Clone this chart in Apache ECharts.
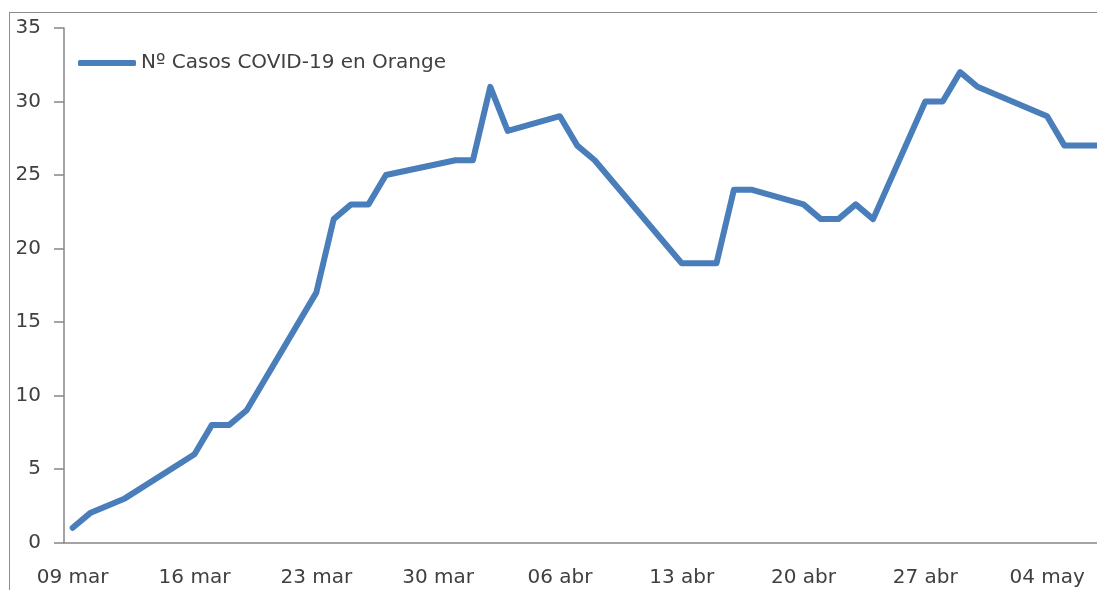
<!DOCTYPE html>
<html>
<head>
<meta charset="utf-8">
<script src="https://cdn.jsdelivr.net/npm/echarts@6/dist/echarts.min.js"></script>
<style>
	html, body { margin: 0; padding: 0; background: #fff; overflow: hidden; }
	#frame { position: absolute; left: 9px; top: 12px; width: 2000px; height: 1000px; border: 1px solid #8c8c8c; }
	#chart { position: absolute; left: 0; top: 0; width: 1097px; height: 590px; }
</style>
</head>
<body>
<div id="frame"></div>
<div id="chart"></div>
<script>
// daily categories, 09 mar -> 07 may
const dates = [
	'09 mar', '10 mar', '11 mar', '12 mar', '13 mar', '14 mar', '15 mar',
	'16 mar', '17 mar', '18 mar', '19 mar', '20 mar', '21 mar', '22 mar',
	'23 mar', '24 mar', '25 mar', '26 mar', '27 mar', '28 mar', '29 mar',
	'30 mar', '31 mar', '01 abr', '02 abr', '03 abr', '04 abr', '05 abr',
	'06 abr', '07 abr', '08 abr', '09 abr', '10 abr', '11 abr', '12 abr',
	'13 abr', '14 abr', '15 abr', '16 abr', '17 abr', '18 abr', '19 abr',
	'20 abr', '21 abr', '22 abr', '23 abr', '24 abr', '25 abr', '26 abr',
	'27 abr', '28 abr', '29 abr', '30 abr', '01 may', '02 may', '03 may',
	'04 may', '05 may', '06 may', '07 may'
]

// null = no report that day (line joins across it)
const casos = [
	1, 2, null, 3, null, null, null,
	6, 8, 8, 9, null, null, null,
	17, 22, 23, 23, 25, null, null,
	null, 26, 26, 31, 28, null, null,
	29, 27, 26, null, null, null, null,
	19, 19, 19, 24, 24, null, null,
	23, 22, 22, 23, 22, null, null,
	30, 30, 32, 31, null, null, null,
	29, 27, 27, 27
]

const yTicks = { min: 0, max: 35, interval: 5 }
const seriesName = 'Nº Casos COVID-19 en Orange'

const axisColor = '#868686'
const textColor = '#404040'
const font = 'DejaVu Sans'

const chart = echarts.init(document.getElementById('chart'))

const option = {
	backgroundColor: 'transparent',
	animation: false,
	textStyle: { fontFamily: font },
	grid: {
		left: 64,
		top: 28,
		width: 1044,
		height: 514.5,
		outerBoundsMode: 'none'
	},
	legend: {
		left: 73,
		top: 48,
		itemWidth: 58,
		itemHeight: 6,
		icon: 'roundRect',
		textStyle: { fontFamily: font, fontSize: 20, color: textColor },
		data: [seriesName]
	},
	xAxis: {
		type: 'category',
		data: dates,
		boundaryGap: true,
		axisLine: { lineStyle: { color: axisColor, width: 1.5 } },
		axisTick: { interval: 6, length: 9, lineStyle: { color: axisColor, width: 1.5 } },
		axisLabel: { interval: 6, margin: 25, fontFamily: font, fontSize: 20, color: textColor },
		splitLine: { show: false }
	},
	yAxis: {
		type: 'value',
		min: yTicks.min,
		max: yTicks.max,
		interval: yTicks.interval,
		axisLine: { show: true, lineStyle: { color: axisColor, width: 1.5 } },
		axisTick: { show: true, length: 10, lineStyle: { color: axisColor, width: 1.5 } },
		axisLabel: { margin: 23, fontFamily: font, fontSize: 20, color: textColor },
		splitLine: { show: false }
	},
	series: [
		{
			name: seriesName,
			type: 'line',
			data: casos,
			connectNulls: true,
			showSymbol: false,
			symbol: 'none',
			itemStyle: { color: '#4a7ebb' },
			lineStyle: { color: '#4a7ebb', width: 6, join: 'round', cap: 'round' }
		}
	]
}

option && chart.setOption(option)
</script>
</body>
</html>
